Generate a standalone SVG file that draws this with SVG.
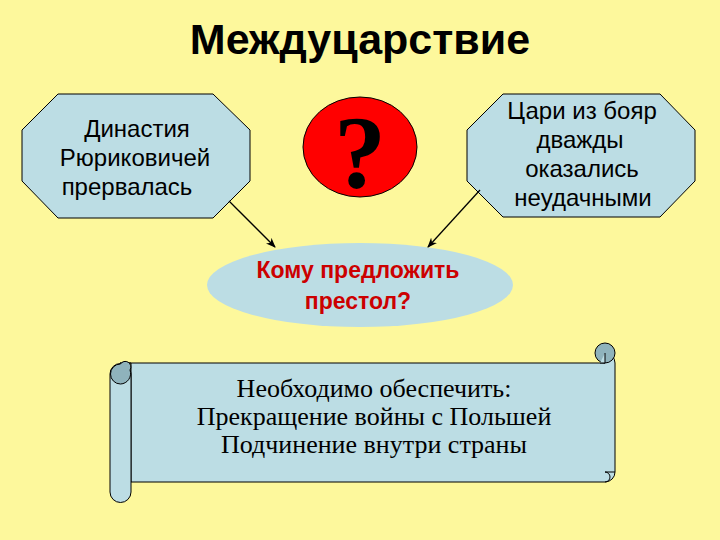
<svg xmlns="http://www.w3.org/2000/svg" width="720" height="540" viewBox="0 0 720 540">
<defs>
<marker id="ah" markerWidth="10" markerHeight="8" refX="9" refY="4" orient="auto" markerUnits="userSpaceOnUse">
<path d="M0,0 L10,4 L0,8 L3,4 Z" fill="#000"/>
</marker>
<style>
.box{fill:#bcdde4;stroke:#000;stroke-width:1}
.sans{font-family:"Liberation Sans",Arial,sans-serif}
.serif{font-family:"Liberation Serif","Times New Roman",serif}
.t{font-size:24px;fill:#000;text-anchor:middle}
.s{font-size:26px;fill:#000;text-anchor:middle}
.conn{stroke:#000;stroke-width:1.3;fill:none}
</style>
</defs>
<rect width="720" height="540" fill="#fdf89c"/>
<text x="360" y="54" class="sans" font-size="43" font-weight="bold" text-anchor="middle" fill="#000">Междуцарствие</text>

<g id="left-node">
<polygon class="box" points="58,94 213,94 250,130 250,181 213,218 58,218 22,181 22,130"/>
<text class="sans t" x="137" y="137">Династия</text>
<text class="sans t" x="135" y="166">Рюриковичей</text>
<text class="sans t" x="127" y="195">прервалась</text>
</g>

<g id="question">
<ellipse cx="360" cy="147" rx="57" ry="50" fill="#ff0000" stroke="#000" stroke-width="1"/>
<text x="360" y="188" class="serif" font-size="104" font-weight="bold" text-anchor="middle" fill="#000">?</text>
</g>

<g id="right-node">
<polygon class="box" points="503,94 660,94 695,130 695,181 660,217 503,217 467,181 467,130"/>
<text class="sans t" x="582" y="119">Цари из бояр</text>
<text class="sans t" x="580" y="148">дважды</text>
<text class="sans t" x="582" y="177">оказались</text>
<text class="sans t" x="583" y="206">неудачными</text>
</g>

<g id="center-node">
<ellipse cx="360" cy="285" rx="153" ry="42" fill="#bcdde4"/>
<text class="sans" x="358" y="278" font-size="23" font-weight="bold" text-anchor="middle" fill="#cc0000">Кому предложить</text>
<text class="sans" x="358" y="309" font-size="23" font-weight="bold" text-anchor="middle" fill="#cc0000">престол?</text>
</g>

<g id="connectors">
<line class="conn" x1="229" y1="201" x2="275" y2="247" marker-end="url(#ah)"/>
<line class="conn" x1="480" y1="190" x2="428" y2="247" marker-end="url(#ah)"/>
</g>

<g id="scroll">
<path class="box" d="M120,363 L605,363 L605,353 A10,10 0 0 1 615,363 L615,472 A10,10 0 0 1 605,482 L131,482 L131,363 Z"/>
<circle cx="605" cy="353" r="10" fill="#8fb3bc" stroke="#000" stroke-width="1"/>
<path d="M600,363 L605,363 L605,353" fill="#bcdde4" stroke="#000" stroke-width="1"/>
<path d="M605,482 A5,5 0 0 0 605,472 L615,472" fill="none" stroke="#000" stroke-width="1"/>
<path class="box" d="M110,374 A10.5,10.5 0 0 1 131,374 L131,492 A10.5,10.5 0 0 1 110,492 Z"/>
<path d="M120.5,384 A10.5,10.5 0 0 0 130,370 A5,5 0 0 0 120.5,364 A5,5 0 0 0 120.5,384 Z" fill="#8fb3bc" stroke="#000" stroke-width="1"/>
<text class="serif s" x="374" y="397">Необходимо обеспечить:</text>
<text class="serif s" x="374" y="425">Прекращение войны с Польшей</text>
<text class="serif s" x="374" y="453">Подчинение внутри страны</text>
</g>
</svg>
